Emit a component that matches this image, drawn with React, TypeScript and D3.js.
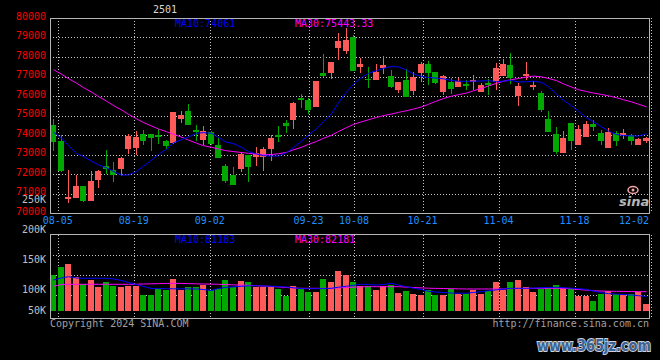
import React from "react";
import * as d3 from "d3";

// daily kline, contract 2501
const dates = (
  "08-02 08-05 08-06 08-07 08-08 08-09 08-12 08-13 08-14 08-15 08-16 " +
  "08-19 08-20 08-21 08-22 08-23 08-26 08-27 08-28 08-29 08-30 " +
  "09-02 09-03 09-04 09-05 09-06 09-09 09-10 09-11 09-12 09-13 09-18 09-19 09-20 " +
  "09-23 09-24 09-25 09-26 09-27 09-30 10-08 10-09 10-10 10-11 " +
  "10-14 10-15 10-16 10-17 10-18 10-21 10-22 10-23 10-24 10-25 " +
  "10-28 10-29 10-30 10-31 11-01 11-04 11-05 11-06 11-07 11-08 " +
  "11-11 11-12 11-13 11-14 11-15 11-18 11-19 11-20 11-21 11-22 " +
  "11-25 11-26 11-27 11-28 11-29 12-02"
).split(" ");

const opens = [
  74510, 73690, 70730, 70790, 71390, 70620, 71690, 72410, 72200, 72270,
  73300, 73350, 74050, 74050, 74000, 73690, 73590, 74820, 75230, 74260,
  73740, 74150, 73490, 72410, 71950, 72270, 72970, 72860, 72890, 73280,
  74000, 74620, 74770, 75900, 75800, 75440, 77180, 77180, 78460, 78310,
  79040, 77490, 76870, 76820, 77440, 77030, 76310, 76820, 76260, 77180,
  77640, 77230, 76210, 76720, 76460, 76620, 76720, 76210, 76670, 76720,
  77030, 77590, 76000, 77030, 76460, 76150, 74820, 74050, 73080, 74620,
  73490, 73900, 74560, 74100, 73330, 74100, 74000, 74000, 73490, 73690,
];
const highs = [
  74820, 74000, 72200, 71950, 71400, 72150, 72200, 73230, 72630, 72890,
  74050, 74210, 74260, 74050, 74310, 73740, 75200, 75230, 75590, 74510,
  74460, 74210, 73830, 72510, 72360, 73130, 72970, 73390, 73390, 74000,
  74460, 74770, 75690, 76100, 75900, 76770, 78150, 77740, 79230, 79490,
  79130, 77950, 77490, 77640, 78050, 77330, 76720, 77390, 77230, 77740,
  77800, 77230, 77080, 76920, 76920, 76820, 77080, 76670, 76870, 77690,
  77900, 78210, 76670, 77740, 76770, 76260, 75230, 74410, 74210, 74620,
  74510, 74720, 74770, 74260, 74360, 74210, 74310, 74050, 73850, 73900,
];
const lows = [
  73180, 72100, 70530, 70780, 70580, 70600, 71270, 71990, 71610, 71910,
  73030, 72970, 73490, 73180, 73540, 73280, 73550, 74620, 74500, 73690,
  73490, 73490, 72840, 71550, 71440, 72120, 71590, 72410, 72150, 72670,
  73640, 74100, 74310, 75390, 75080, 75440, 76970, 76870, 77850, 78150,
  77280, 77180, 76410, 76820, 77130, 76410, 76150, 75950, 76050, 76720,
  76560, 76620, 76050, 76100, 76460, 76310, 76310, 76210, 76050, 76310,
  77030, 76620, 75490, 76820, 76310, 75180, 74150, 73030, 73080, 73230,
  73490, 73900, 74210, 73490, 73330, 73440, 73800, 73490, 73490, 73590,
];
const closes = [
  73640, 72150, 70840, 71390, 70630, 71640, 72150, 72240, 71950, 72820,
  73950, 73900, 73690, 73850, 73910, 73440, 75180, 75030, 74510, 74150,
  74210, 73540, 72840, 71640, 71440, 73030, 72360, 73090, 73280, 73850,
  73910, 74460, 75640, 75800, 75280, 76770, 77030, 77740, 78820, 78870,
  77280, 77640, 76820, 77230, 77590, 76460, 76720, 75950, 76970, 77640,
  77180, 76670, 77030, 76360, 76770, 76510, 76820, 76560, 76560, 77440,
  77640, 76920, 76510, 77130, 76560, 75280, 74150, 73130, 73850, 73690,
  74310, 74560, 74410, 73690, 74150, 73690, 74100, 73690, 73800, 73850,
];
const ma10 = [
  74140, 73850, 73450, 73050, 72900, 72650, 72470, 72320, 72130, 71940,
  71950, 72140, 72400, 72710, 73000, 73270, 73600, 73760, 73900, 74090,
  74120, 74090, 73870, 73650, 73560, 73370, 73144, 73030, 72940, 72920,
  72923, 73090, 73360, 73680, 74000, 74320, 74680, 75090, 75650, 76200,
  76600, 76910, 77164, 77300, 77420, 77510, 77490, 77330, 77130, 77000,
  76950, 76920, 76880, 76800, 76754, 76754, 76760, 76770, 76785, 76740,
  76760, 76800, 76720, 76730, 76760, 76700, 76480, 76100, 75780, 75500,
  75220, 74880, 74680, 74420, 74200, 74030, 73970, 73955, 73950, 74061,
];
const ma30 = [
  77350, 77120, 76890, 76660, 76430, 76200, 75970, 75740, 75510, 75290,
  75060, 74830, 74640, 74460, 74310, 74170, 74040, 73890, 73740, 73580,
  73450, 73370, 73280, 73200, 73150, 73100, 73060, 73020, 72980, 73000,
  73040, 73110, 73240, 73370, 73520, 73670, 73830, 73990, 74180, 74380,
  74540, 74660, 74780, 74900, 74995, 75080, 75160, 75245, 75330, 75440,
  75570, 75720, 75870, 75990, 76070, 76150, 76270, 76390, 76520, 76650,
  76760, 76830, 76900, 76970, 77020, 76980, 76900, 76790, 76620, 76460,
  76320, 76230, 76150, 76080, 76010, 75910, 75810, 75700, 75580, 75443,
];
const volumes = [
  131800, 145100, 150600, 128000, 116400, 123500, 112400, 120200, 113100, 112400,
  113100, 113100, 98600, 98600, 108600, 107000, 125200, 106900, 111400, 111400,
  115200, 106400, 108600, 123500, 111400, 121900, 120200, 112400, 112400, 112400,
  108600, 97400, 113600, 108600, 104100, 104100, 125200, 120800, 138500, 131800,
  120200, 114100, 114100, 106900, 113600, 114700, 102500, 105200, 100300, 98600,
  106900, 98600, 98600, 108600, 100300, 100300, 106900, 100300, 105200, 120200,
  106900, 120200, 123500, 111900, 104100, 108600, 110200, 115200, 110800, 108600,
  96900, 96900, 88600, 100300, 105200, 100300, 98600, 100300, 103600, 83600,
];
const volMa10 = [
  123500, 126900, 129000, 126900, 126400, 126400, 126400, 126400, 125200, 122700,
  119400, 116000, 112700, 109400, 109200, 109100, 108900, 108900, 108800, 108600,
  107700, 106100, 109400, 111200, 112100, 113100, 113700, 114100, 113600, 113100,
  112600, 111900, 110600, 109100, 109100, 109100, 109200, 109700, 111600, 113200,
  114700, 116500, 115900, 115200, 116000, 118000, 115200, 112400, 109900, 107600,
  104700, 103600, 102800, 101900, 101600, 101400, 102900, 104100, 105600, 107200,
  108600, 109700, 109700, 109700, 110100, 110600, 111100, 111400, 110700, 109900,
  109100, 107900, 105200, 102300, 100900, 99900, 99300, 98600, 97400, 96300,
];
const volMa30 = [
  113200, 115900, 116400, 116400, 116400, 116400, 116400, 116400, 116400, 116400,
  116400, 116500, 116900, 117200, 117500, 117800, 118000, 117800, 117500, 117200,
  116900, 116700, 116400, 115900, 115500, 115000, 114700, 114100, 113400, 112700,
  111900, 111100, 110200, 109700, 109700, 109700, 109700, 109700, 110400, 111100,
  111600, 112200, 112400, 112400, 112400, 112400, 112400, 111700, 111100, 110400,
  109900, 109600, 109400, 109100, 108800, 108600, 108600, 108600, 108600, 108600,
  108800, 109100, 109400, 109700, 109700, 109700, 109700, 109700, 109600, 108900,
  107700, 106600, 105600, 105100, 104900, 104700, 104500, 104300, 104200, 104100,
];
const tickDates = ["08-05", "08-19", "09-02", "09-23", "10-08", "10-21", "11-04", "11-18", "12-02"];
const priceTicks = [80000, 79000, 78000, 77000, 76000, 75000, 74000, 73000, 72000, 71000, 70000];
const volTicks = [250000, 200000, 150000, 100000, 50000];

const UP = "#ff5a5a";
const DOWN = "#00a800";
const GRID = "#c8c8c8";
const FRAME = "#b4b4b4";
const MONO = "'DejaVu Sans Mono', monospace";

export default function App() {
  const left = 50;
  const right = 650;
  const pTop = 18;
  const pBot = 213;
  const vTop = 235;
  const vBot = 318;
  const vBase = 311;

  const x = d3.scaleLinear().domain([0, dates.length]).range([left, right]);
  // date grid of the original drifts slightly from the candles
  const xTick = d3.scaleLinear().domain([0, dates.length]).range([50.1, 658.1]);
  const yP = d3.scaleLinear().domain([70000, 80000]).range([pBot, pTop]);
  const yV = d3.scaleLinear().domain([72000, 200000]).range([vBase, 234]);

  const bodyW = 6;
  const cx = (i: number) => Math.round(x(i)) + 3.5;

  const priceLine = d3
    .line<number>()
    .x((_, i) => cx(i))
    .y((d) => yP(d));
  const volLine = d3
    .line<number>()
    .x((_, i) => cx(i))
    .y((d) => yV(d));

  const tickIdx = tickDates.map((d) => dates.indexOf(d));
  const vGrid = d3.range(1, 4).map((k) => vTop + 20 * k);

  return (
    <div style={{ position: "fixed", left: 0, top: 0 }}>
      <svg width={660} height={360} style={{ display: "block", background: "#000" }}>
        <rect x={0} y={0} width={660} height={360} fill="#000" />

        {/* grids */}
        <g shapeRendering="crispEdges" stroke={GRID} strokeWidth={1} strokeDasharray="1,2">
          {priceTicks.slice(1, -1).map((v) => (
            <line key={v} x1={left} x2={right} y1={Math.round(yP(v)) + 0.5} y2={Math.round(yP(v)) + 0.5} />
          ))}
          {vGrid.map((y) => (
            <line key={y} x1={left} x2={right} y1={y + 0.5} y2={y + 0.5} />
          ))}
          {tickIdx.map((i) => (
            <g key={i}>
              <line x1={Math.round(xTick(i)) + 0.5} x2={Math.round(xTick(i)) + 0.5} y1={pTop} y2={pBot} />
              <line x1={Math.round(xTick(i)) + 0.5} x2={Math.round(xTick(i)) + 0.5} y1={vTop} y2={vBot} />
            </g>
          ))}
        </g>

        {/* sina logo */}
        <g>
          <ellipse cx={633} cy={190} rx={5} ry={3.5} fill="none" stroke="#f4a6a6" strokeWidth={1.5} />
          <circle cx={633} cy={190} r={1.5} fill="#f4a6a6" />
          <text x={619} y={206} fontFamily="'DejaVu Sans', sans-serif" fontSize={13} fontStyle="italic" fontWeight="bold" fill="#b8b8b8">
            sina
          </text>
        </g>

        {/* candles */}
        <g shapeRendering="crispEdges">
          {dates.map((d, i) => {
            const up = closes[i] >= opens[i];
            const col = up ? UP : DOWN;
            const x0 = Math.round(x(i));
            const top = Math.round(yP(Math.max(opens[i], closes[i])));
            const bot = Math.round(yP(Math.min(opens[i], closes[i])));
            return (
              <g key={d} fill={col}>
                <rect x={x0 + 3} y={Math.round(yP(highs[i]))} width={1} height={Math.max(1, Math.round(yP(lows[i])) - Math.round(yP(highs[i])))} />
                <rect x={x0} y={top} width={bodyW} height={Math.max(1, bot - top)} />
              </g>
            );
          })}
        </g>
        <path d={priceLine(ma30) ?? ""} fill="none" stroke="#ff00ff" strokeWidth={1} />
        <path d={priceLine(ma10) ?? ""} fill="none" stroke="#0000ff" strokeWidth={1} />

        {/* volume bars */}
        <g shapeRendering="crispEdges">
          {volumes.map((v, i) => {
            const up = closes[i] >= opens[i];
            const y = Math.round(yV(v));
            return <rect key={i} x={Math.round(x(i))} y={y} width={bodyW} height={vBase - y} fill={up ? UP : DOWN} />;
          })}
        </g>
        <path d={volLine(volMa30) ?? ""} fill="none" stroke="#ff00ff" strokeWidth={1} />
        <path d={volLine(volMa10) ?? ""} fill="none" stroke="#0000ff" strokeWidth={1} />

        {/* frames */}
        <g shapeRendering="crispEdges" fill="none" stroke={FRAME} strokeWidth={1}>
          <rect x={left + 0.5} y={pTop + 0.5} width={right - left - 1} height={pBot - pTop} />
          <rect x={left + 0.5} y={vTop - 0.5} width={right - left - 1} height={vBot - vTop + 0.5} />
        </g>

        {/* axis labels */}
        <g fontFamily={MONO} fontSize={10}>
          {priceTicks.map((v) => (
            <text key={v} x={46} y={yP(v) - 1.5} textAnchor="end" dominantBaseline="middle" fill="#ff0000">
              {v}
            </text>
          ))}
          {volTicks.map((v) => (
            <text key={v} x={46} y={Math.min(yV(v) - 4, 310.5)} textAnchor="end" dominantBaseline="middle" fill="#c0c0c0">
              {v / 1000 + "K"}
            </text>
          ))}
          {tickIdx.map((i, k) => (
            <text
              key={i}
              x={Math.min(xTick(i), 634)}
              y={221}
              textAnchor="middle"
              dominantBaseline="middle"
              fill="#1e90ff"
            >
              {tickDates[k]}
            </text>
          ))}
          <text x={153} y={13} fill="#d8d8d8">2501</text>
          <text x={175} y={27} fill="#0000ff">MA10:{ma10[ma10.length - 1]}</text>
          <text x={295} y={27} fill="#ff00ff">MA30:75443.33</text>
          <text x={175} y={243} fill="#0000ff">MA10:81183</text>
          <text x={295} y={243} fill="#ff00ff">MA30:82181</text>
          <text x={50} y={327} fill="#a0a0a0">Copyright 2024 SINA.COM</text>
          <text x={649} y={327} textAnchor="end" fill="#a0a0a0">http://finance.sina.com.cn</text>
        </g>

        {/* site watermark */}
        <text
          x={537}
          y={351}
          fontFamily="'DejaVu Sans', sans-serif"
          fontWeight="bold"
          fontSize={16}
          textLength={114}
          lengthAdjust="spacingAndGlyphs"
          fill="#3b6394"
          stroke="#c9d2de"
          strokeWidth={2}
          paintOrder="stroke"
        >
          www.365jz.com
        </text>
      </svg>
    </div>
  );
}
